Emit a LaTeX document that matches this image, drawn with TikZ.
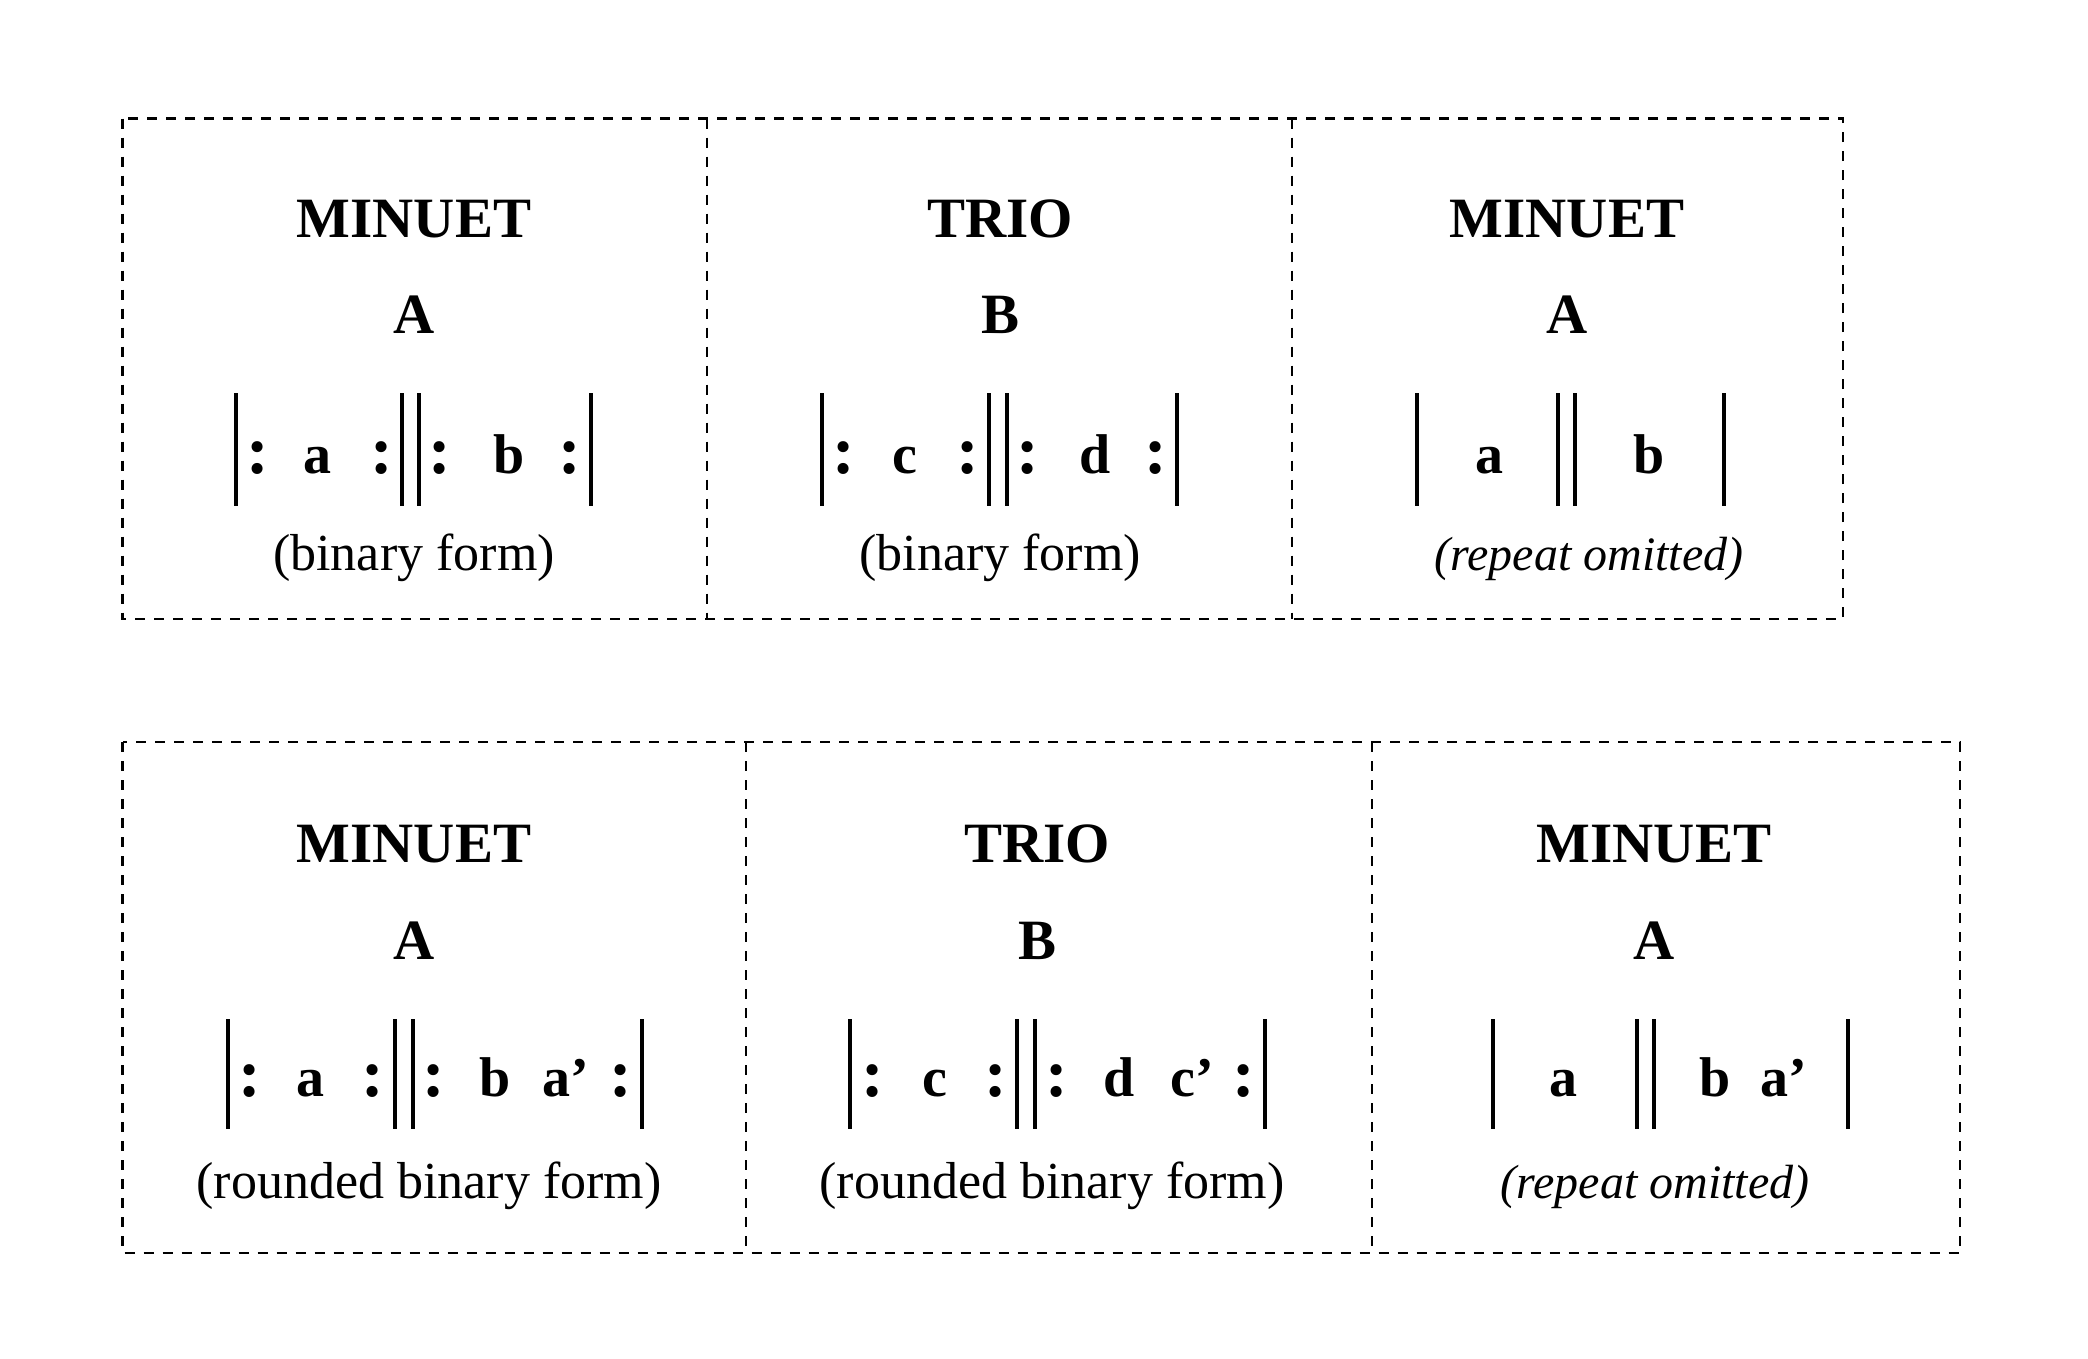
\documentclass[tikz,border=0pt]{standalone}
\usepackage{fontspec}
\setmainfont{Liberation Serif}
\begin{document}
\begin{tikzpicture}[x=1pt,y=-1pt,
  frame/.style={line width=2.8pt, dash pattern=on 10pt off 9pt},
  bar/.style={line width=4.5pt},
  title/.style={font=\fontsize{57}{60}\selectfont\bfseries, anchor=base, inner sep=0pt},
  letter/.style={font=\fontsize{56}{60}\selectfont\bfseries, anchor=base, inner sep=0pt},
  colon/.style={font=\fontsize{68}{70}\selectfont\bfseries, anchor=base, inner sep=0pt},
  captext/.style={font=\fontsize{52}{56}\selectfont, anchor=base, inner sep=0pt},
  capit/.style={font=\fontsize{48}{52}\selectfont\itshape, anchor=base, inner sep=0pt}]
\useasboundingbox (0,0) rectangle (2088,1358);
% frames
\draw[frame] (122.5,118.5) rectangle (1843,619);
\draw[frame] (707,118.5) -- (707,619);
\draw[frame] (1292,118.5) -- (1292,619);
\draw[frame] (122.5,742) rectangle (1960,1253);
\draw[frame] (746,742) -- (746,1253);
\draw[frame] (1372,742) -- (1372,1253);

% ---------- top row ----------
\node[title] (t1) at (414,237) {MINUET};
\node[title] (s1) at (414,333) {A};
\node[title] (t2) at (1000,237) {TRIO};
\node[title] (s2) at (1000,333) {B};
\node[title] (t3) at (1567,237) {MINUET};
\node[title] (s3) at (1567,333) {A};

% box 1
\draw[bar] (236,393) -- (236,506);
\node[colon] (c11) at (258,473) {:};
\node[letter] (l11) at (317,473) {a};
\node[colon] (c12) at (382,473) {:};
\draw[bar] (402,393) -- (402,506);
\draw[bar] (419,393) -- (419,506);
\node[colon] (c13) at (440,473) {:};
\node[letter] (l12) at (509,473) {b};
\node[colon] (c14) at (570,473) {:};
\draw[bar] (591,393) -- (591,506);
\node[captext] (k1) at (414,570) {(binary form)};

% box 2
\draw[bar] (822,393) -- (822,506);
\node[colon] (c21) at (844,473) {:};
\node[letter] (l21) at (905,473) {c};
\node[colon] (c22) at (968,473) {:};
\draw[bar] (989,393) -- (989,506);
\draw[bar] (1007,393) -- (1007,506);
\node[colon] (c23) at (1028,473) {:};
\node[letter] (l22) at (1095,473) {d};
\node[colon] (c24) at (1156,473) {:};
\draw[bar] (1177,393) -- (1177,506);
\node[captext] (k2) at (1000,570) {(binary form)};

% box 3
\draw[bar] (1417,393) -- (1417,506);
\node[letter] (l31) at (1489,473) {a};
\draw[bar] (1558,393) -- (1558,506);
\draw[bar] (1575,393) -- (1575,506);
\node[letter] (l32) at (1649,473) {b};
\draw[bar] (1724,393) -- (1724,506);
\node[capit] (k3) at (1589,570) {(repeat omitted)};

% ---------- bottom row ----------
\node[title] (t4) at (414,862) {MINUET};
\node[title] (s4) at (414,959) {A};
\node[title] (t5) at (1037,862) {TRIO};
\node[title] (s5) at (1037,959) {B};
\node[title] (t6) at (1654,862) {MINUET};
\node[title] (s6) at (1654,959) {A};

% box 4
\draw[bar] (228,1019) -- (228,1129);
\node[colon] (c41) at (250,1096) {:};
\node[letter] (l41) at (310,1096) {a};
\node[colon] (c42) at (373,1096) {:};
\draw[bar] (395,1019) -- (395,1129);
\draw[bar] (413,1019) -- (413,1129);
\node[colon] (c43) at (434,1096) {:};
\node[letter] (l42) at (495,1096) {b};
\node[letter] (l43) at (566,1096) {a’};
\node[colon] (c44) at (621,1096) {:};
\draw[bar] (642,1019) -- (642,1129);
\node[captext] (k4) at (429,1198) {(rounded binary form)};

% box 5
\draw[bar] (850,1019) -- (850,1129);
\node[colon] (c51) at (873,1096) {:};
\node[letter] (l51) at (935,1096) {c};
\node[colon] (c52) at (996,1096) {:};
\draw[bar] (1017,1019) -- (1017,1129);
\draw[bar] (1035,1019) -- (1035,1129);
\node[colon] (c53) at (1057,1096) {:};
\node[letter] (l52) at (1119,1096) {d};
\node[letter] (l53) at (1192,1096) {c’};
\node[colon] (c54) at (1244,1096) {:};
\draw[bar] (1265,1019) -- (1265,1129);
\node[captext] (k5) at (1052,1198) {(rounded binary form)};

% box 6
\draw[bar] (1493,1019) -- (1493,1129);
\node[letter] (l61) at (1563,1096) {a};
\draw[bar] (1637,1019) -- (1637,1129);
\draw[bar] (1654,1019) -- (1654,1129);
\node[letter] (l62) at (1715,1096) {b};
\node[letter] (l63) at (1784,1096) {a’};
\draw[bar] (1848,1019) -- (1848,1129);
\node[capit] (k6) at (1655,1198) {(repeat omitted)};
\end{tikzpicture}
\end{document}
